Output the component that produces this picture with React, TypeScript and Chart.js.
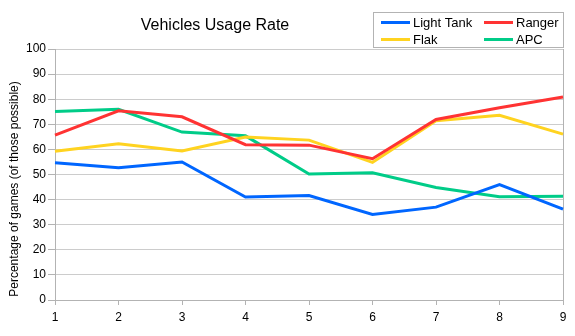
import React, { useEffect, useRef } from "react";
import { Chart, registerables } from "chart.js";

Chart.register(...registerables);

const categories = ["1", "2", "3", "4", "5", "6", "7", "8", "9"];
const lightTank = [54.7, 52.7, 55.0, 41.0, 41.6, 34.1, 37.0, 46.0, 36.2];
const ranger = [65.7, 75.4, 73.0, 61.9, 61.7, 56.3, 71.9, 76.6, 80.9];
const flak = [59.3, 62.2, 59.4, 64.9, 63.7, 54.8, 71.4, 73.6, 66.1];
const apc = [75.1, 76.0, 66.9, 65.4, 50.2, 50.7, 44.8, 41.1, 41.3];

const seriesNames = ["Light Tank", "Ranger", "Flak", "APC"];
const seriesColors = ["#0066ff", "#ff3333", "#ffd320", "#00cc88"];

const titleText = "Vehicles Usage Rate";
const yAxisTitle = "Percentage of games (of those possible)";

const FONT = '"Liberation Sans", Arial, sans-serif';

export default function App() {
  const canvasRef = useRef<HTMLCanvasElement | null>(null);

  useEffect(() => {
    if (!canvasRef.current) return;
    const overlay = {
      id: "overlay",
      afterDraw(chart: any) {
        const ctx = chart.ctx as CanvasRenderingContext2D;
        ctx.save();
        // title
        ctx.fillStyle = "#000";
        ctx.font = `16px ${FONT}`;
        ctx.textAlign = "center";
        ctx.textBaseline = "middle";
        ctx.fillText(titleText, 215, 26);
        // y axis title
        ctx.save();
        ctx.translate(14.5, 189);
        ctx.rotate(-Math.PI / 2);
        ctx.font = `12px ${FONT}`;
        ctx.textAlign = "center";
        ctx.textBaseline = "middle";
        ctx.fillText(yAxisTitle, 0, 0);
        ctx.restore();
        // legend box
        ctx.strokeStyle = "#b3b3b3";
        ctx.lineWidth = 1;
        ctx.strokeRect(373.5, 12.5, 190, 35);
        const items = [
          { x: 381, y: 22.5, i: 0 },
          { x: 484, y: 22.5, i: 1 },
          { x: 381, y: 39.5, i: 2 },
          { x: 484, y: 39.5, i: 3 },
        ];
        ctx.font = `13px ${FONT}`;
        ctx.textAlign = "left";
        ctx.textBaseline = "middle";
        for (const it of items) {
          ctx.strokeStyle = seriesColors[it.i];
          ctx.lineWidth = 3;
          ctx.beginPath();
          ctx.moveTo(it.x, it.y);
          ctx.lineTo(it.x + 29, it.y);
          ctx.stroke();
          ctx.fillStyle = "#000";
          ctx.fillText(seriesNames[it.i], it.x + 32, it.y + 0.5);
        }
        ctx.restore();
      },
    };

    const data = [lightTank, ranger, flak, apc];
    const chart = new Chart(canvasRef.current, {
      type: "line",
      data: {
        labels: categories,
        datasets: data.map((d, i) => ({
          label: seriesNames[i],
          data: d,
          borderColor: seriesColors[i],
          backgroundColor: seriesColors[i],
          borderWidth: 3,
          pointRadius: 0,
          tension: 0,
          fill: false,
        })),
      },
      options: {
        animation: false,
        responsive: false,
        layout: { padding: { top: 49, right: 12, left: 0, bottom: 0 } },
        plugins: {
          legend: { display: false },
          title: { display: false },
          tooltip: { enabled: false },
        },
        scales: {
          x: {
            type: "category",
            offset: false,
            afterFit: (s: any) => {
              s.height = 36;
            },
            grid: {
              drawOnChartArea: true,
              color: (c: any) => (c.index === categories.length - 1 ? "#b3b3b3" : "rgba(0,0,0,0)"),
              tickColor: "#b3b3b3",
              tickLength: 5,
            },
            border: { color: "#b3b3b3" },
            ticks: {
              color: "#000",
              font: { family: FONT, size: 12 },
              padding: 5,
              maxRotation: 0,
            },
          },
          y: {
            min: 0,
            max: 100,
            afterFit: (s: any) => {
              s.width = 55;
            },
            ticks: {
              stepSize: 10,
              color: "#000",
              font: { family: FONT, size: 12 },
              padding: 2,
            },
            grid: {
              color: "#cccccc",
              tickColor: "#b3b3b3",
              tickLength: 7,
            },
            border: { color: "#b3b3b3" },
            title: { display: false },
          },
        },
      },
      plugins: [overlay],
    });
    return () => chart.destroy();
  }, []);

  return (
    <div style={{ position: "fixed", left: 0, top: 0, width: 575, height: 336, background: "#fff" }}>
      <canvas ref={canvasRef} width={575} height={336} />
    </div>
  );
}
